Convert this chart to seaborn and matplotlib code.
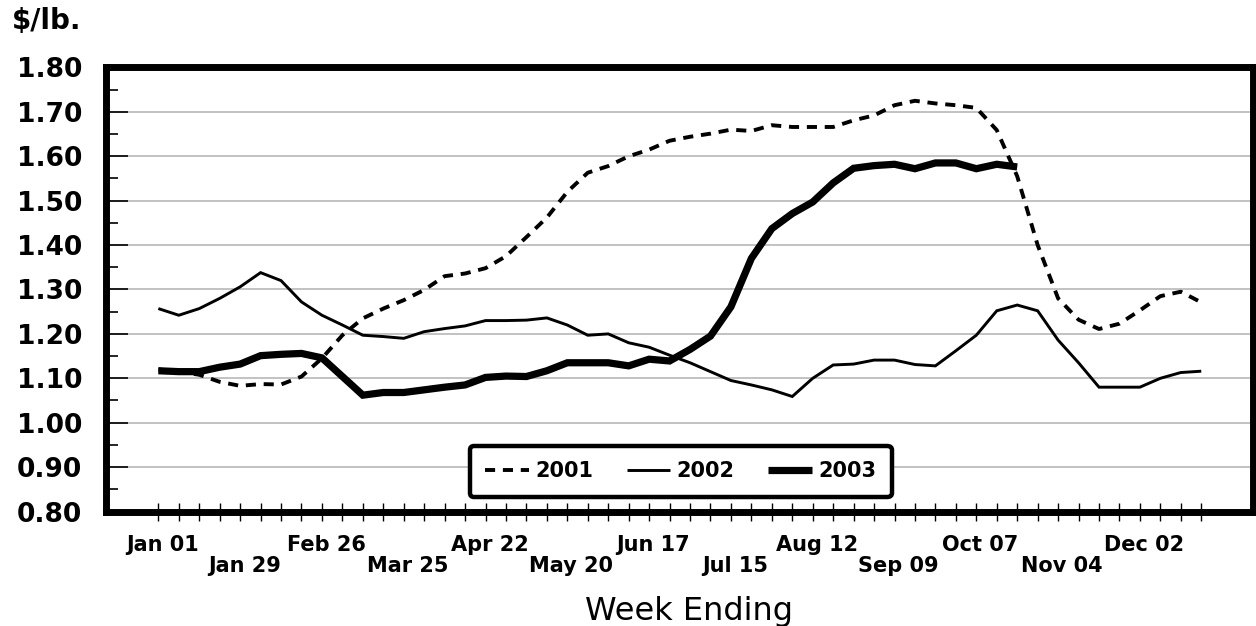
import numpy as np
import pandas as pd
import matplotlib
matplotlib.use("Agg")
import matplotlib.pyplot as plt
import matplotlib.transforms as mtransforms
from matplotlib.ticker import MultipleLocator, FormatStrFormatter
import seaborn as sns

# ---- data ----
week_labels = ["Jan 01", "Jan 29", "Feb 26", "Mar 25", "Apr 22", "May 20", "Jun 17",
               "Jul 15", "Aug 12", "Sep 09", "Oct 07", "Nov 04", "Dec 02"]
label_step = 4
n_weeks = 52

price_2001 = [1.120, 1.115, 1.108, 1.092, 1.083, 1.087, 1.086, 1.104, 1.145, 1.197,
              1.235, 1.257, 1.276, 1.299, 1.330, 1.336, 1.348, 1.375, 1.418, 1.462,
              1.520, 1.563, 1.578, 1.600, 1.615, 1.635, 1.644, 1.651, 1.660, 1.657,
              1.670, 1.666, 1.666, 1.666, 1.681, 1.692, 1.715, 1.725, 1.719, 1.715,
              1.709, 1.659, 1.555, 1.400, 1.280, 1.232, 1.211, 1.223, 1.253, 1.285,
              1.295, 1.271]
price_2002 = [1.257, 1.242, 1.257, 1.280, 1.306, 1.338, 1.320, 1.272, 1.242, 1.220,
              1.197, 1.194, 1.190, 1.205, 1.212, 1.218, 1.230, 1.230, 1.231, 1.236,
              1.220, 1.197, 1.200, 1.180, 1.170, 1.152, 1.135, 1.115, 1.095, 1.085,
              1.074, 1.059, 1.100, 1.130, 1.132, 1.141, 1.141, 1.131, 1.128, 1.162,
              1.197, 1.252, 1.265, 1.252, 1.186, 1.135, 1.080, 1.080, 1.080, 1.100,
              1.113, 1.116]
price_2003 = [1.117, 1.115, 1.115, 1.125, 1.132, 1.151, 1.154, 1.156, 1.146, 1.104,
              1.062, 1.068, 1.068, 1.074, 1.080, 1.085, 1.102, 1.105, 1.104, 1.117,
              1.135, 1.135, 1.135, 1.128, 1.143, 1.139, 1.165, 1.195, 1.261, 1.370,
              1.437, 1.471, 1.497, 1.540, 1.573, 1.579, 1.582, 1.572, 1.585, 1.585,
              1.572, 1.582, 1.576]
series_names = ["2001", "2002", "2003"]

# ---- figure ----
sns.set_theme(style="white")
plt.rcParams["font.family"] = ["DejaVu Sans"]
plt.rcParams.update({"text.color": "black", "axes.labelcolor": "black",
                     "xtick.color": "black", "ytick.color": "black"})

fig = plt.figure(figsize=(12.56, 6.26), dpi=100)
ax = fig.add_axes([0.0844, 0.1829, 0.9132, 0.7093])

styles = {
    "2001": dict(linewidth=2.8, linestyle=(0, (2.6, 2.0))),
    "2002": dict(linewidth=2.1, linestyle="-"),
    "2003": dict(linewidth=5.2, linestyle="-"),
}
for name, vals in zip(series_names, [price_2001, price_2002, price_2003]):
    df = pd.DataFrame({"week": np.arange(len(vals)), "price": vals})
    sns.lineplot(data=df, x="week", y="price", ax=ax, color="black",
                 label=name, solid_capstyle="butt", dash_capstyle="butt",
                 solid_joinstyle="miter", **styles[name])

ax.set_xlim(-2.56, 53.53)
ax.set_ylim(0.80, 1.80)

# y axis
ax.yaxis.set_major_locator(MultipleLocator(0.10))
ax.yaxis.set_minor_locator(MultipleLocator(0.05))
ax.yaxis.set_major_formatter(FormatStrFormatter("%.2f"))
ax.tick_params(axis="y", which="major", direction="in", length=16, width=1.2,
               color="black", labelcolor="black", pad=17, labelsize=19, left=True)
ax.tick_params(axis="y", which="minor", direction="in", length=8.5, width=1.2,
               color="black", left=True)
for t in ax.get_yticklabels():
    t.set_fontweight("bold")
ax.yaxis.grid(True, which="major", color="#bdbdbd", linewidth=1.3)
ax.xaxis.grid(False)

# x axis
xt = list(range(n_weeks))
xl = [""] * n_weeks
for k, lab in enumerate(week_labels):
    pos = k * label_step
    xl[pos] = lab if k % 2 == 0 else "\n" + lab
ax.set_xticks(xt)
ax.set_xticklabels(xl, fontsize=15, fontweight="bold", linespacing=1.1)
ax.tick_params(axis="x", which="major", direction="inout", length=13.5, width=1.0,
               color="black", labelcolor="black", pad=10, bottom=True)
shift = mtransforms.ScaledTranslation(4 / 100, 0, fig.dpi_scale_trans)
for t in ax.get_xticklabels():
    t.set_transform(t.get_transform() + shift)

ax.set_xlabel("Week Ending", fontsize=23, color="black")
ax.xaxis.set_label_coords(0.508, -0.19)
ax.set_ylabel("")

for sp in ax.spines.values():
    sp.set_visible(True)
    sp.set_color("black")
    sp.set_linewidth(5)

fig.text(12 / 1256, 1 - 29 / 626, "$/lb.", fontsize=20, fontweight="bold",
         ha="left", va="baseline", color="black")

leg = ax.legend(loc="center", bbox_to_anchor=(0.501, 0.0903), ncol=3,
                frameon=True, fancybox=True, handlelength=2.1, handletextpad=0.3,
                columnspacing=1.6, borderpad=0.75,
                prop={"size": 15, "weight": "bold"})
fr = leg.get_frame()
fr.set_edgecolor("black")
fr.set_linewidth(3.2)
fr.set_facecolor("white")
fr.set_alpha(1)
for t in leg.get_texts():
    t.set_color("black")

fig.savefig("out.png", dpi=100)
